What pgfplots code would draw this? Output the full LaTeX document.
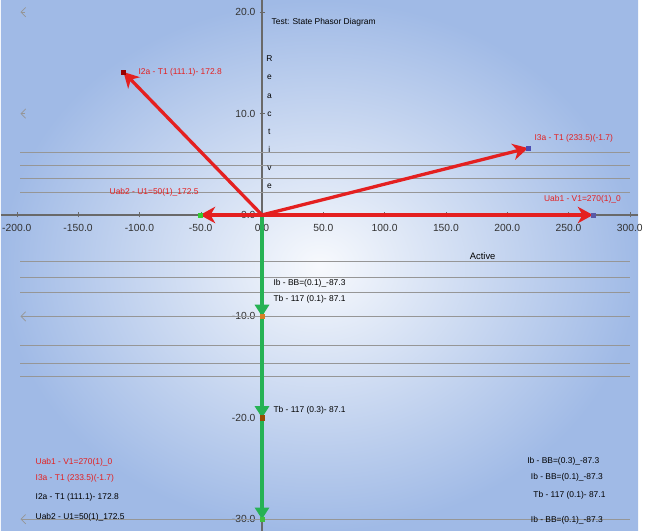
\documentclass[border=0pt]{standalone}
\usepackage{pgfplots}
\pgfplotsset{compat=1.18}
\usepackage{fontspec}
\setmainfont{Liberation Sans}
\usetikzlibrary{arrows.meta}

\definecolor{bgout}{RGB}{160,186,230}
\definecolor{vred}{RGB}{228,32,32}
\definecolor{vgreen}{RGB}{38,178,84}
\definecolor{axgray}{RGB}{105,105,105}
\definecolor{gridg}{RGB}{150,150,150}
\newcommand{\lab}{\fontsize{7.2}{8}\selectfont}

\begin{document}
\begin{tikzpicture}[x=1cm,y=1cm]
\path[use as bounding box] (0,0) rectangle (19.74,15.93);
\fill[white] (0,0) rectangle (19.74,15.93);
\begin{axis}[at={(0.03cm,0cm)}, anchor=south west, scale only axis,
 width=19.11cm, height=15.93cm,
 xmin=-212.9, xmax=306.7, ymin=-31.16, ymax=21.2,
 axis lines=middle, axis line style={axgray, line width=0.9pt, -},
 xtick={-200,-150,...,300}, ytick={-30,-20,...,20},
 hide obscured x ticks=false, hide obscured y ticks=false,
 tick style={axgray},
 tick label style={font=\fontsize{8.8}{9}\selectfont, text=black!80},
 xticklabel style={yshift=-2pt},
 /pgf/number format/.cd, fixed, fixed zerofill, precision=1, assume math mode=true, /pgfplots/.cd,
 axis background/.style={inner color=white!92!bgout, outer color=bgout},
 clip=false,
]
% horizontal grey lines
\addplot[gridg, line width=0.6pt] coordinates {(-197,6.2) (300,6.2)};
\addplot[gridg, line width=0.6pt] coordinates {(-197,4.9) (300,4.9)};
\addplot[gridg, line width=0.6pt] coordinates {(-197,3.6) (300,3.6)};
\addplot[gridg, line width=0.6pt] coordinates {(-197,2.2) (300,2.2)};
\addplot[gridg, line width=0.6pt] coordinates {(-197,-4.6) (300,-4.6)};
\addplot[gridg, line width=0.6pt] coordinates {(-197,-6.1) (300,-6.1)};
\addplot[gridg, line width=0.6pt] coordinates {(-197,-7.6) (300,-7.6)};
\addplot[gridg, line width=0.6pt, {Straight Barb[length=4pt]}-] coordinates {(-197,-10) (300,-10)};
\addplot[gridg, line width=0.6pt] coordinates {(-197,-12.9) (300,-12.9)};
\addplot[gridg, line width=0.6pt] coordinates {(-197,-14.6) (300,-14.6)};
\addplot[gridg, line width=0.6pt] coordinates {(-197,-15.9) (300,-15.9)};
\addplot[gridg, line width=0.6pt, {Straight Barb[length=4pt]}-] coordinates {(-197,-30) (300,-30)};
\addplot[gridg, line width=0.6pt, {Straight Barb[length=4pt]}-] coordinates {(-197,10) (-193,10)};
\addplot[gridg, line width=0.6pt, {Straight Barb[length=4pt]}-] coordinates {(-197,20) (-193,20)};
% green vectors
\addplot[vgreen, line width=2.8pt, -{Triangle[length=10pt,width=12pt]}] coordinates {(0,0) (0,-30)};
\addplot[vgreen, line width=2.8pt, -{Triangle[length=10pt,width=12pt]}] coordinates {(0,0) (0,-20)};
\addplot[vgreen, line width=2.8pt, -{Triangle[length=10pt,width=12pt]}] coordinates {(0,0) (0,-10)};
% red vectors
\addplot[vred, line width=2.8pt, -{Stealth[length=13pt,width=14pt,inset=4pt]}] coordinates {(0,0) (-113,14.1)};
\addplot[vred, line width=2.8pt, -{Stealth[length=13pt,width=14pt,inset=4pt]}] coordinates {(0,0) (217,6.6)};
\addplot[vred, line width=2.8pt, -{Stealth[length=13pt,width=14pt,inset=4pt]}] coordinates {(0,0) (-50.6,0)};
\addplot[vred, line width=2.8pt, -{Stealth[length=13pt,width=14pt,inset=4pt]}] coordinates {(0,0) (270,0)};
% end markers
\addplot[only marks, mark=square*, mark size=1.8pt, mark options={draw=red!60!black, fill=red!60!black}] coordinates {(-113,14.1)};
\addplot[only marks, mark=square*, mark size=1.8pt, mark options={draw=blue!40!gray, fill=blue!40!gray}] coordinates {(217,6.6)};
\addplot[only marks, mark=square*, mark size=1.8pt, mark options={draw=green!60!gray, fill=green!60!gray}] coordinates {(-50.6,0)};
\addplot[only marks, mark=square*, mark size=1.8pt, mark options={draw=blue!30!gray, fill=blue!30!gray}] coordinates {(270,0)};
\addplot[only marks, mark=square*, mark size=1.8pt, mark options={draw=orange!70!gray, fill=orange!70!gray}] coordinates {(0,-10)};
\addplot[only marks, mark=square*, mark size=1.8pt, mark options={draw=orange!60!black, fill=orange!60!black}] coordinates {(0,-20)};
\addplot[only marks, mark=square*, mark size=1.8pt, mark options={draw=green!50!gray, fill=green!50!gray}] coordinates {(0,-30)};
% titles
\node[anchor=west, font=\lab] at (axis cs:4.5,19.0) {Test: State Phasor Diagram};
\node[anchor=north, font=\lab, align=center, inner sep=0pt] at (axis cs:6.0,15.7) {R\\[7.5pt]e\\[7.5pt]a\\[7.5pt]c\\[7.5pt]t\\[7.5pt]i\\[7.5pt]v\\[7.5pt]e};
\node[font=\fontsize{8}{9}\selectfont] at (axis cs:180,-4.1) {Active};
% vector labels
\node[anchor=west, font=\lab, text=vred] at (axis cs:-104,14.1) {I2a - T1 (111.1)- 172.8};
\node[anchor=west, font=\lab, text=vred] at (axis cs:219,7.6) {I3a - T1 (233.5)(-1.7)};
\node[anchor=center, font=\lab, text=vred] at (axis cs:-88,2.2) {Uab2 - U1=50(1)\_172.5};
\node[anchor=east, font=\lab, text=vred] at (axis cs:296,1.5) {Uab1 - V1=270(1)\_0};
\node[anchor=west, font=\lab] at (axis cs:6,-6.7) {Ib - BB=(0.1)\_-87.3};
\node[anchor=west, font=\lab] at (axis cs:6,-8.3) {Tb - 117 (0.1)- 87.1};
\node[anchor=west, font=\lab] at (axis cs:6,-19.3) {Tb - 117 (0.3)- 87.1};
% bottom-left list
\node[anchor=west, font=\lab, text=vred] at (axis cs:-188,-24.4) {Uab1 - V1=270(1)\_0};
\node[anchor=west, font=\lab, text=vred] at (axis cs:-188,-26.0) {I3a - T1 (233.5)(-1.7)};
\node[anchor=west, font=\lab] at (axis cs:-188,-27.8) {I2a - T1 (111.1)- 172.8};
\node[anchor=west, font=\lab] at (axis cs:-188,-29.8) {Uab2 - U1=50(1)\_172.5};
% bottom-right list
\node[anchor=west, font=\lab] at (axis cs:213,-24.3) {Ib - BB=(0.3)\_-87.3};
\node[anchor=west, font=\lab] at (axis cs:216,-25.9) {Ib - BB=(0.1)\_-87.3};
\node[anchor=west, font=\lab] at (axis cs:218,-27.6) {Tb - 117 (0.1)- 87.1};
\node[anchor=west, font=\lab] at (axis cs:216,-30.1) {Ib - BB=(0.1)\_-87.3};
\end{axis}
\end{tikzpicture}
\end{document}
